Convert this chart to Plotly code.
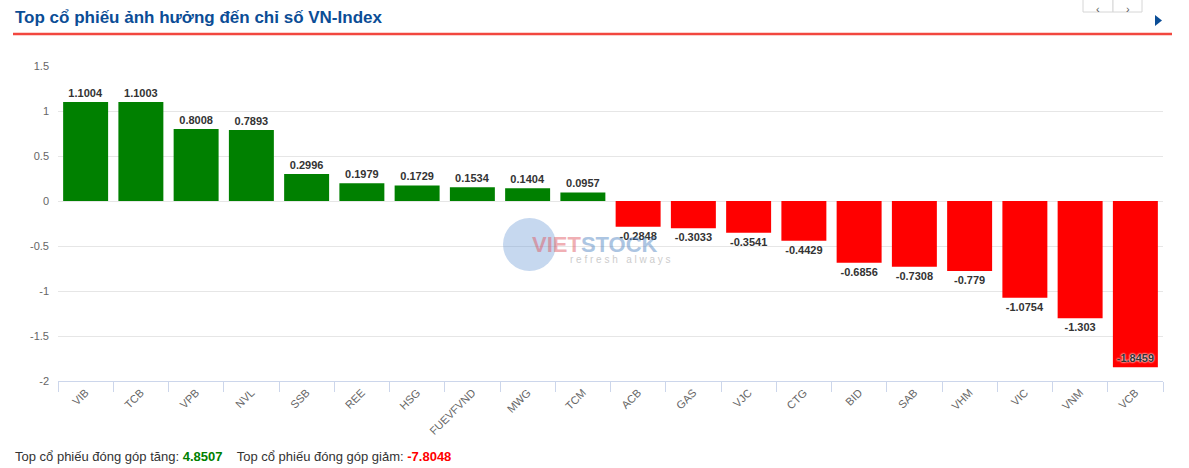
import plotly.graph_objects as go

categories = ["VIB", "TCB", "VPB", "NVL", "SSB", "REE", "HSG", "FUEVFVND", "MWG", "TCM",
              "ACB", "GAS", "VJC", "CTG", "BID", "SAB", "VHM", "VIC", "VNM", "VCB"]
values = [1.1004, 1.1003, 0.8008, 0.7893, 0.2996, 0.1979, 0.1729, 0.1534, 0.1404, 0.0957,
          -0.2848, -0.3033, -0.3541, -0.4429, -0.6856, -0.7308, -0.779, -1.0754, -1.303, -1.8459]
labels = ["1.1004", "1.1003", "0.8008", "0.7893", "0.2996", "0.1979", "0.1729", "0.1534", "0.1404", "0.0957",
          "-0.2848", "-0.3033", "-0.3541", "-0.4429", "-0.6856", "-0.7308", "-0.779", "-1.0754", "-1.303", "-1.8459"]
y_ticks = [1.5, 1, 0.5, 0, -0.5, -1, -1.5, -2]
title_text = "Top cổ phiếu ảnh hưởng đến chỉ số VN-Index"
total_up = "4.8507"
total_down = "-7.8048"

W, H = 1189, 468
L, R, T, B = 58, 26, 66, 87
PW, PH = W - L - R, H - T - B

def px(x):
    return (x - L) / PW

def py(y):
    return (H - B - y) / PH

colors = ["#008000" if v >= 0 else "#ff0000" for v in values]
positions = ["outside"] * len(values)
positions[-1] = "inside"

FONT = "Arial, Liberation Sans, sans-serif"

fig = go.Figure(go.Bar(
    x=categories, y=values, marker=dict(color=colors, line=dict(width=0)),
    text=labels, textposition=positions, insidetextanchor="end",
    textfont=dict(family=FONT, size=11, color="#333333", weight="bold", shadow="0px 0px 2px white"),
    outsidetextfont=dict(family=FONT, size=11, color="#333333", weight="bold", shadow="0px 0px 2px white"),
    insidetextfont=dict(family=FONT, size=11, color="#333333", weight="bold",
                        shadow="0px 0px 2px white, 0px 0px 2px white"),
    cliponaxis=False, hoverinfo="skip",
))

fig.update_layout(
    width=W, height=H, autosize=False,
    margin=dict(l=L, r=R, t=T, b=B, pad=0),
    paper_bgcolor="white", plot_bgcolor="white",
    bargap=0.186, showlegend=False,
    font=dict(family=FONT, color="#666666", size=11),
    xaxis=dict(type="category", tickangle=-45, ticks="outside", tickson="boundaries",
               ticklen=10, tickcolor="#ccd6eb", showline=True, linecolor="#ccd6eb",
               linewidth=1, showgrid=False, tickfont=dict(size=11, color="#666666"),
               fixedrange=True),
    yaxis=dict(range=[-2, 1.5], tickvals=y_ticks, ticktext=[str(t) for t in y_ticks],
               gridcolor="#e6e6e6", gridwidth=1, zeroline=False, showline=False,
               ticks="", tickfont=dict(size=11, color="#666666"), ticklabelstandoff=8,
               fixedrange=True),
)

shapes = []
# red underline
shapes.append(dict(type="line", xref="paper", yref="paper", x0=px(13), x1=px(1172),
                   y0=py(34), y1=py(34), line=dict(color="#f2473f", width=2.5)))
# buttons
for x0, x1 in [(1083, 1113), (1113, 1142)]:
    shapes.append(dict(type="rect", xref="paper", yref="paper", x0=px(x0), x1=px(x1),
                       y0=py(12), y1=py(-2), line=dict(color="#d6d6d6", width=1),
                       fillcolor="white"))
# blue triangle
shapes.append(dict(type="path", xref="paper", yref="paper",
                   path=f"M {px(1155)} {py(15)} L {px(1162)} {py(20.5)} L {px(1155)} {py(26)} Z",
                   fillcolor="#0b4d96", line=dict(width=0)))
# watermark circle
shapes.append(dict(type="circle", xref="paper", yref="paper", x0=px(503), x1=px(556),
                   y0=py(271), y1=py(218), fillcolor="#5b8fd0", opacity=0.35,
                   line=dict(width=0), layer="above"))

annotations = [
    dict(text=f"<b>{title_text}</b>", xref="paper", yref="paper", x=px(13), y=py(17),
         xanchor="left", yanchor="middle", showarrow=False,
         font=dict(family=FONT, size=17, color="#0b4d96")),
    dict(text="‹", xref="paper", yref="paper", x=px(1098), y=py(0.5),
         xanchor="center", yanchor="top", showarrow=False,
         font=dict(family=FONT, size=11, color="#555555")),
    dict(text="›", xref="paper", yref="paper", x=px(1127.5), y=py(0.5),
         xanchor="center", yanchor="top", showarrow=False,
         font=dict(family=FONT, size=11, color="#555555")),
    dict(text=(f"Top cổ phiếu đóng góp tăng: <b><span style='color:#008000'>{total_up}</span></b>"
               f"    Top cổ phiếu đóng góp giảm: <b><span style='color:#ff0000'>{total_down}</span></b>"),
         xref="paper", yref="paper", x=px(13), y=py(456),
         xanchor="left", yanchor="middle", showarrow=False,
         font=dict(family=FONT, size=13, color="#333333")),
    dict(text="<span style='color:#e0505a'>VIET</span><span style='color:#4a7fc0'>STOCK</span>",
         xref="paper", yref="paper", x=px(530), y=py(244),
         xanchor="left", yanchor="middle", showarrow=False, opacity=0.45,
         font=dict(family=FONT, size=22, color="#4a7fc0", weight="bold")),
    dict(text="r e f r e s h   a l w a y s",
         xref="paper", yref="paper", x=px(568), y=py(259),
         xanchor="left", yanchor="middle", showarrow=False, opacity=0.5,
         font=dict(family=FONT, size=10, color="#999999")),
]

fig.update_layout(shapes=shapes, annotations=annotations)
fig.write_html("out.html", config={"displayModeBar": False, "staticPlot": True},
               post_script="document.body.style.margin='0';document.body.style.overflow='hidden';")
